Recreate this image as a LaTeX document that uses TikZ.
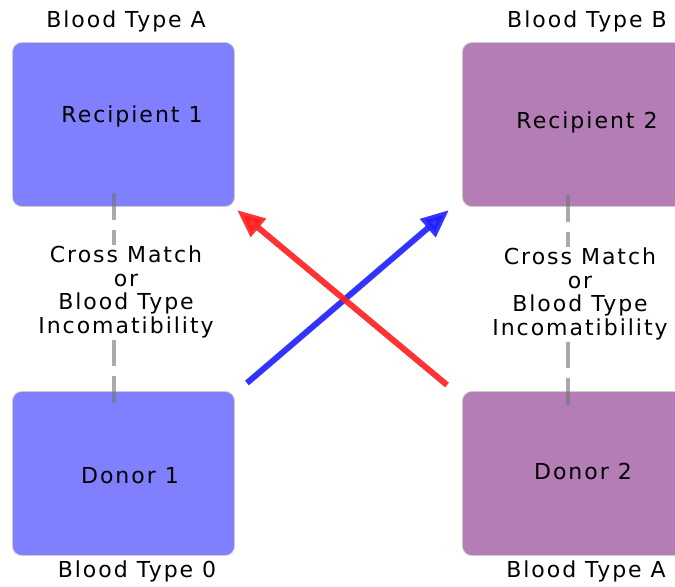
\documentclass[tikz,border=0pt]{standalone}
\usepackage{fontspec}
\setmainfont[LetterSpace=9]{DejaVu Sans}
\usetikzlibrary{arrows.meta}
\definecolor{boxblue}{RGB}{128,128,255}
\definecolor{boxpurple}{RGB}{181,125,181}
\definecolor{arrred}{RGB}{255,30,30}
\definecolor{arrblue}{RGB}{30,30,255}
\tikzset{
  box/.style={draw=black!20, line width=0.6pt, rounded corners=7pt, minimum width=166.5pt, minimum height=123pt, inner sep=0pt},
  lbl/.style={font=\fontsize{16.5pt}{18pt}\selectfont, inner sep=0pt},
  ttl/.style={font=\fontsize{16.5pt}{18pt}\selectfont, inner sep=0pt},
  midtxt/.style={font=\fontsize{16.5pt}{17.7pt}\selectfont, align=center, fill=white, inner sep=1pt},
  gline/.style={draw=black!55, line width=2.4pt, opacity=0.6, dash pattern=on 20pt off 7.5pt},
  swap/.style={line width=4.5pt, -{Triangle[length=21pt,width=17pt]}, opacity=0.9}
}
\begin{document}
\begin{tikzpicture}[x=0.75pt,y=-0.75pt]
\useasboundingbox (0,0) rectangle (675,586);
% boxes
\node[box, fill=boxblue] (r1) at (123.5,124.5) {};
\node[box, fill=boxpurple] (r2) at (573.5,124.5) {};
\node[box, fill=boxblue] (d1) at (123.5,473.5) {};
\node[box, fill=boxpurple] (d2) at (573.5,473.5) {};
% box texts
\node[ttl] (r1t) at (132,116) {Recipient 1};
\node[ttl] (r2t) at (587,122) {Recipient 2};
\node[ttl] (d1t) at (130,476) {Donor 1};
\node[ttl] (d2t) at (583,471) {Donor 2};
% blood type labels
\node[lbl] (bta) at (126,21) {Blood Type A};
\node[lbl] (btb) at (587,21) {Blood Type B};
\node[lbl] (bto) at (137,571) {Blood Type 0};
\node[lbl] (bta2) at (586,571) {Blood Type A};
% dashed links
\coordinate (l1a) at (114,193);
\coordinate (l1b) at (114,405);
\coordinate (l2a) at (568,195);
\coordinate (l2b) at (568,407);
\draw[gline] (l1a) -- (l1b);
\draw[gline] (l2a) -- (l2b);
% middle texts
\node[midtxt] (m1) at (126,292) {Cross Match\\or\\Blood Type\\Incomatibility};
\node[midtxt] (m2) at (580,294) {Cross Match\\or\\Blood Type\\Incomatibility};
% arrows
\coordinate (bs) at (247,383);
\coordinate (be) at (449,210);
\coordinate (rs) at (447,385);
\coordinate (re) at (237,210);
\draw[swap, draw=arrblue, fill=arrblue] (bs) -- (be);
\draw[swap, draw=arrred, fill=arrred] (rs) -- (re);
\end{tikzpicture}
\end{document}
